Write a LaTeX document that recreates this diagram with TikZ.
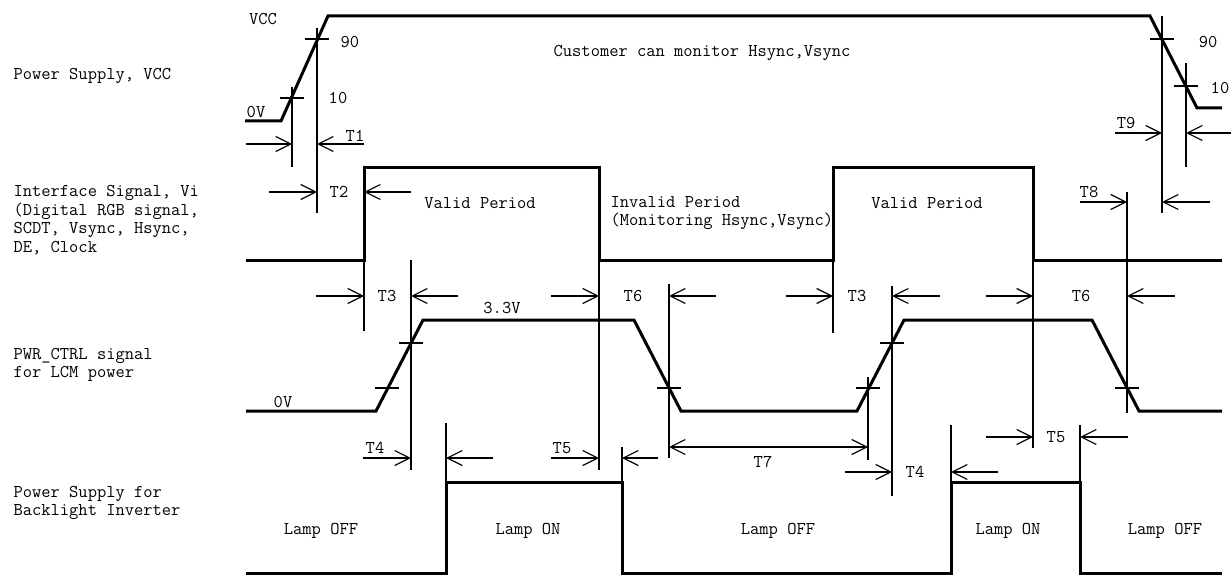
\documentclass[tikz,border=0pt]{standalone}
\usepackage{fontspec}
\usetikzlibrary{arrows.meta}

\tikzset{barb/.tip={Straight Barb[length=15pt,width=15pt]}}

\begin{document}
\begin{tikzpicture}[x=1pt, y=-1pt, line width=1.2pt,
    every node/.style={font=\ttfamily\fontsize{18}{18.6}\selectfont, inner sep=0pt},
    sig/.style={line width=3pt},
    dim/.style={-barb}]
    \useasboundingbox (0,0) rectangle (1231,575);

    % signal names
    \node [anchor=west, align=left] (vccname) at (13,76) {Power Supply, VCC};
    \node [anchor=west, align=left] (viname) at (13,220) {Interface Signal, Vi\\(Digital RGB signal,\\SCDT, Vsync, Hsync,\\DE, Clock};
    \node [anchor=west, align=left] (pwrname) at (13,365) {PWR\_CTRL signal\\for LCM power};
    \node [anchor=west, align=left] (blname) at (13,503) {Power Supply for\\Backlight Inverter};

    % waveforms
    \draw [sig] (245,121) -- (281,121) -- (328,16) -- (1150,16) -- (1197,108) -- (1222,108); % VCC
    \draw [sig] (246,260) -- (364,260) -- (364,167) -- (599,167) -- (599,260) -- (833,260) -- (833,167) -- (1033,167) -- (1033,260) -- (1222,260); % Vi
    \draw [sig] (246,411) -- (376,411) -- (423,320) -- (634,320) -- (681,411) -- (857,411) -- (904,320) -- (1092,320) -- (1139,411) -- (1222,411); % PWR_CTRL
    \draw [sig] (246,573) -- (446,573) -- (446,482) -- (622,482) -- (622,573) -- (951,573) -- (951,482) -- (1080,482) -- (1080,573) -- (1222,573); % Backlight

    % 10 / 90 marks
    \foreach \x/\y in {317/39, 292/98, 1162/39, 1186/86, 411/343, 387/388, 669/388, 892/343, 868/388, 1127/388}
        \draw (\x-12,\y) -- (\x+12,\y);

    % reference lines
    \draw (317,28) -- (317,213);
    \draw (292,87) -- (292,167);
    \draw (1162,16) -- (1162,213);
    \draw (1186,63) -- (1186,167);
    \draw (364,260) -- (364,331);
    \draw (599,260) -- (599,470);
    \draw (833,260) -- (833,333);
    \draw (1033,260) -- (1033,448);
    \draw (411,260) -- (411,470);
    \draw (669,284) -- (669,458);
    \draw (892,286) -- (892,496);
    \draw (868,377) -- (868,460);
    \draw (1127,192) -- (1127,413);
    \draw (446,423) -- (446,482);
    \draw (622,447) -- (622,482);
    \draw (951,425) -- (951,482);
    \draw (1080,425) -- (1080,482);

    % T1, T2, T8, T9
    \draw [dim] (246,144) -- (292,144);
    \draw [dim] (364,144) -- (317,144);
    \draw [dim] (269,192) -- (317,192);
    \draw [dim] (411,192) -- (364,192);
    \draw [dim] (1115,133) -- (1162,133);
    \draw [dim] (1231,133) -- (1186,133);
    \draw [dim] (1080,202) -- (1127,202);
    \draw [dim] (1210,202) -- (1162,202);
    % T3, T6
    \draw [dim] (316,296) -- (364,296);
    \draw [dim] (458,296) -- (411,296);
    \draw [dim] (551,296) -- (599,296);
    \draw [dim] (716,296) -- (669,296);
    \draw [dim] (786,296) -- (833,296);
    \draw [dim] (940,296) -- (892,296);
    \draw [dim] (986,296) -- (1033,296);
    \draw [dim] (1175,296) -- (1127,296);
    % T4, T5, T7
    \draw [dim] (363,458) -- (411,458);
    \draw [dim] (493,458) -- (446,458);
    \draw [dim] (551,458) -- (599,458);
    \draw [dim] (658,458) -- (622,458);
    \draw [dim] (845,472) -- (892,472);
    \draw [dim] (998,472) -- (951,472);
    \draw [dim] (986,437) -- (1033,437);
    \draw [dim] (1128,437) -- (1080,437);
    \draw [barb-barb] (669,447) -- (868,447);

    % labels
    \node (vcc) at (263,19) {VCC};
    \node (zerov) at (256,112) {0V};
    \node (ninety) at (350,42) {90};
    \node (ten) at (338,98) {10};
    \node (ninetyr) at (1208,42) {90};
    \node (tenr) at (1220,88) {10};
    \node (monitor) at (702,53) {Customer can monitor Hsync,Vsync};
    \node (tone) at (355,136) {T1};
    \node (ttwo) at (339,192) {T2};
    \node (tnine) at (1126,123) {T9};
    \node (teight) at (1089,192) {T8};
    \node (valida) at (480,203) {Valid Period};
    \node (validb) at (927,203) {Valid Period};
    \node [anchor=west, align=left] (invalid) at (610,213) {Invalid Period\\(Monitoring Hsync,Vsync)};
    \node (tthreea) at (387,296) {T3};
    \node (tsixa) at (633,296) {T6};
    \node (tthreeb) at (857,296) {T3};
    \node (tsixb) at (1081,296) {T6};
    \node (highv) at (502,308) {3.3V};
    \node (zerovb) at (283,402) {0V};
    \node (tfoura) at (375,448) {T4};
    \node (tfivea) at (562,448) {T5};
    \node (tseven) at (763,462) {T7};
    \node (tfourb) at (915,472) {T4};
    \node (tfiveb) at (1056,437) {T5};
    \node (offa) at (321,531) {Lamp OFF};
    \node (ona) at (528,531) {Lamp ON};
    \node (offb) at (778,531) {Lamp OFF};
    \node (onb) at (1008,531) {Lamp ON};
    \node (offc) at (1165,531) {Lamp OFF};
\end{tikzpicture}
\end{document}
